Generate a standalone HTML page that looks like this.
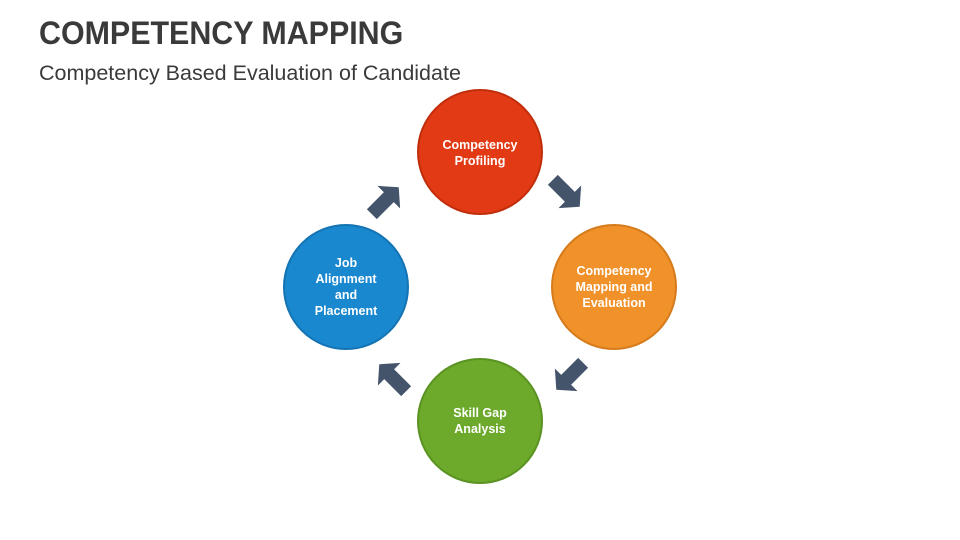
<!DOCTYPE html>
<html><head><style>
body{margin:0;width:960px;height:540px;background:#fff;position:relative;overflow:hidden;font-family:"Liberation Sans",sans-serif}
h1{position:absolute;left:39px;top:15px;margin:0;font-size:32px;font-weight:bold;color:#3a3a3a;transform:scaleX(0.95);transform-origin:0 0;white-space:nowrap}
h2{position:absolute;left:39px;top:61px;margin:0;font-size:21.5px;font-weight:normal;color:#3a3a3a;white-space:nowrap}
</style></head><body>
<h1>COMPETENCY MAPPING</h1>
<h2>Competency Based Evaluation of Candidate</h2>
<svg width="960" height="540" style="position:absolute;left:0;top:0">
<defs>
<g id="ar"><polygon points="-20,-7 4,-7 4,-16 18,0 4,16 4,7 -20,7" fill="#44546A"/></g>
</defs>
<g font-family="Liberation Sans,sans-serif" font-size="12.5" font-weight="bold" fill="#fff" text-anchor="middle">
<circle cx="480" cy="152" r="62" fill="#E23A14" stroke="#C02E0C" stroke-width="2"/>
<text x="480" y="149">Competency</text><text x="480" y="165">Profiling</text>
<circle cx="614" cy="287" r="62" fill="#F0912A" stroke="#D57B1C" stroke-width="2"/>
<text x="614" y="275">Competency</text><text x="614" y="291">Mapping and</text><text x="614" y="307">Evaluation</text>
<circle cx="480" cy="421" r="62" fill="#6DAA2C" stroke="#5A9322" stroke-width="2"/>
<text x="480" y="417">Skill Gap</text><text x="480" y="433">Analysis</text>
<circle cx="346" cy="287" r="62" fill="#1A88CF" stroke="#1474B3" stroke-width="2"/>
<text x="346" y="267">Job</text><text x="346" y="283">Alignment</text><text x="346" y="299">and</text><text x="346" y="315">Placement</text>
</g>
<use href="#ar" transform="translate(386,200) rotate(-45)"/>
<use href="#ar" transform="translate(567,194) rotate(45)"/>
<use href="#ar" transform="translate(569,377) rotate(135)"/>
<use href="#ar" transform="translate(392,377) rotate(-135)"/>
</svg>
</body></html>
